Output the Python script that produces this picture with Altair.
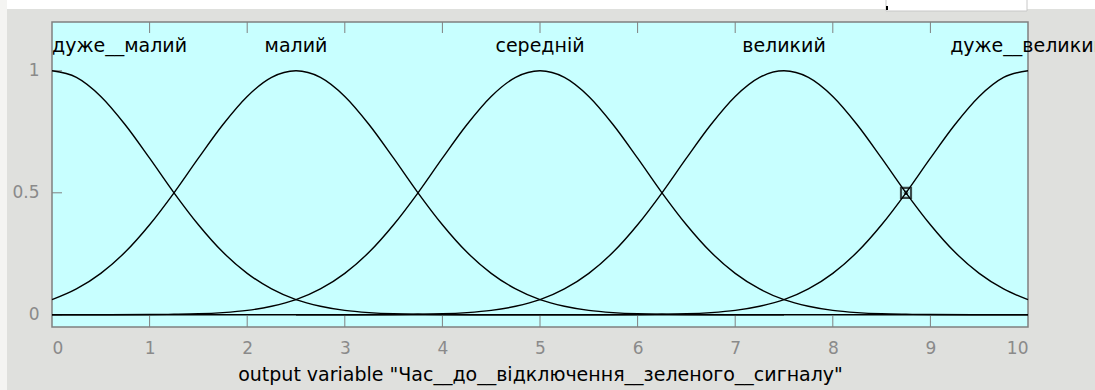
import altair as alt
import pandas as pd

# Membership function centres and names (output variable, range 0..10)
mf_names = ["дуже__малий", "малий", "середній", "великий", "дуже__великий"]
mf_centers = [0.0, 2.5, 5.0, 7.5, 10.0]

# Membership degree versus distance from a centre (same shape for every term)
distance = [0.0, 0.25, 0.5, 0.75, 1.0, 1.25, 1.5, 1.75, 2.0, 2.25, 2.5, 2.75,
            3.0, 3.25, 3.5, 3.75, 4.0, 5.0, 10.0]
degree = [1.0, 0.973, 0.895, 0.779, 0.642, 0.5, 0.369, 0.257, 0.170, 0.106,
          0.062, 0.035, 0.018, 0.009, 0.004, 0.002, 0.001, 0.0, 0.0]

x_ticks = [0, 1, 2, 3, 4, 5, 6, 7, 8, 9, 10]
y_ticks = [0, 0.5, 1]

# Selected point on the "великий"/"дуже__великий" crossing
marker_x = [8.75]
marker_y = [0.5]

x_title = 'output variable "Час__до__відключення__зеленого__сигналу"'

rows = []
for name, c in zip(mf_names, mf_centers):
    pts = {}
    for d, v in zip(distance, degree):
        for x in (c - d, c + d):
            if 0.0 <= x <= 10.0:
                pts[round(x, 4)] = v
    for x in sorted(pts):
        rows.append({"mf": name, "x": x, "mu": pts[x]})
curves = pd.DataFrame(rows)

labels = pd.DataFrame({
    "mf": mf_names,
    "x": mf_centers,
    "y": [1.1] * len(mf_names),
    "align": ["left", "center", "center", "center", "center"],
})

FONT = "DejaVu Sans"
W, H = 976, 305
xs = alt.Scale(domain=[0, 10], nice=False, zero=False)
ys = alt.Scale(domain=[-0.05, 1.2], nice=False, zero=False)

x_axis = alt.Axis(values=x_ticks, tickSize=0, domain=False, grid=False,
                  labelColor="#8a8a8a", labelFontSize=17, labelFont=FONT,
                  labelPadding=13, labelExpr="datum.value + ''",
                  title=x_title, titleColor="#000000",
                  titleFontSize=19, titleFont=FONT, titleFontWeight="normal",
                  titlePadding=9)
y_axis = alt.Axis(values=y_ticks, tickSize=0, domain=False, grid=False,
                  labelColor="#8a8a8a", labelFontSize=17, labelFont=FONT,
                  labelPadding=13, labelExpr="datum.value + ''", title=None)

lines = alt.Chart(curves).mark_line(color="#000000", strokeWidth=1.4, interpolate="monotone").encode(
    x=alt.X("x:Q", scale=xs, axis=x_axis),
    y=alt.Y("mu:Q", scale=ys, axis=y_axis),
    detail="mf:N",
)

# inward tick marks on the frame
xt = pd.DataFrame({"t": x_ticks[1:-1]})
bottom_ticks = alt.Chart(xt).mark_rule(color="#808080", strokeWidth=1).encode(
    x=alt.X("t:Q", scale=xs), y=alt.value(H), y2=alt.value(H - 11))
top_ticks = alt.Chart(xt).mark_rule(color="#808080", strokeWidth=1).encode(
    x=alt.X("t:Q", scale=xs), y=alt.value(0), y2=alt.value(11))
yt = pd.DataFrame({"t": y_ticks})
left_ticks = alt.Chart(yt).mark_rule(color="#808080", strokeWidth=1).encode(
    y=alt.Y("t:Q", scale=ys), x=alt.value(0), x2=alt.value(10))

left_lab = alt.Chart(labels[labels["align"] == "left"]).mark_text(
    align="left", baseline="middle", font=FONT, fontSize=19, color="#000000",
    clip=False).encode(x=alt.X("x:Q", scale=xs), y=alt.Y("y:Q", scale=ys), text="mf:N")
mid_lab = alt.Chart(labels[labels["align"] == "center"]).mark_text(
    align="center", baseline="middle", font=FONT, fontSize=19, color="#000000",
    clip=False).encode(x=alt.X("x:Q", scale=xs), y=alt.Y("y:Q", scale=ys), text="mf:N")

mk = pd.DataFrame({"x": marker_x, "y": marker_y})
marker_sq = alt.Chart(mk).mark_square(filled=False, color="#000000", strokeWidth=2.2, size=100).encode(
    x=alt.X("x:Q", scale=xs), y=alt.Y("y:Q", scale=ys))
marker_o = alt.Chart(mk).mark_point(shape="circle", filled=False, color="#000000",
                                    strokeWidth=1, size=14).encode(
    x=alt.X("x:Q", scale=xs), y=alt.Y("y:Q", scale=ys))

# window strips around the axes panel
strip = pd.DataFrame({"k": [0]})
top_strip = alt.Chart(strip).mark_rect(color="#ffffff").encode(
    x=alt.value(-52), x2=alt.value(W + 67), y=alt.value(-22), y2=alt.value(-13))
left_strip = alt.Chart(strip).mark_rect(color="#f4f4f2").encode(
    x=alt.value(-52), x2=alt.value(-45), y=alt.value(-22), y2=alt.value(H + 63))
edit_box = alt.Chart(strip).mark_rect(color="#ffffff", stroke="#c8c8c8", strokeWidth=1).encode(
    x=alt.value(834), x2=alt.value(975), y=alt.value(-24), y2=alt.value(-11))
edit_mark = alt.Chart(strip).mark_rule(color="#000000", strokeWidth=2).encode(
    x=alt.value(835), y=alt.value(-16), y2=alt.value(-12))

chart = alt.layer(
    top_strip, left_strip, edit_box, edit_mark,
    bottom_ticks, top_ticks, left_ticks,
    lines, left_lab, mid_lab, marker_sq, marker_o,
).properties(
    width=W, height=H,
    autosize=alt.AutoSizeParams(type="none"),
    padding={"left": 52, "top": 22, "right": 67, "bottom": 63},
    background="#dfe0dd",
).configure_view(
    fill="#c8ffff", stroke="#808080", strokeWidth=1.5,
)

chart.save("out.html", embed_options={"renderer": "svg", "actions": False})
